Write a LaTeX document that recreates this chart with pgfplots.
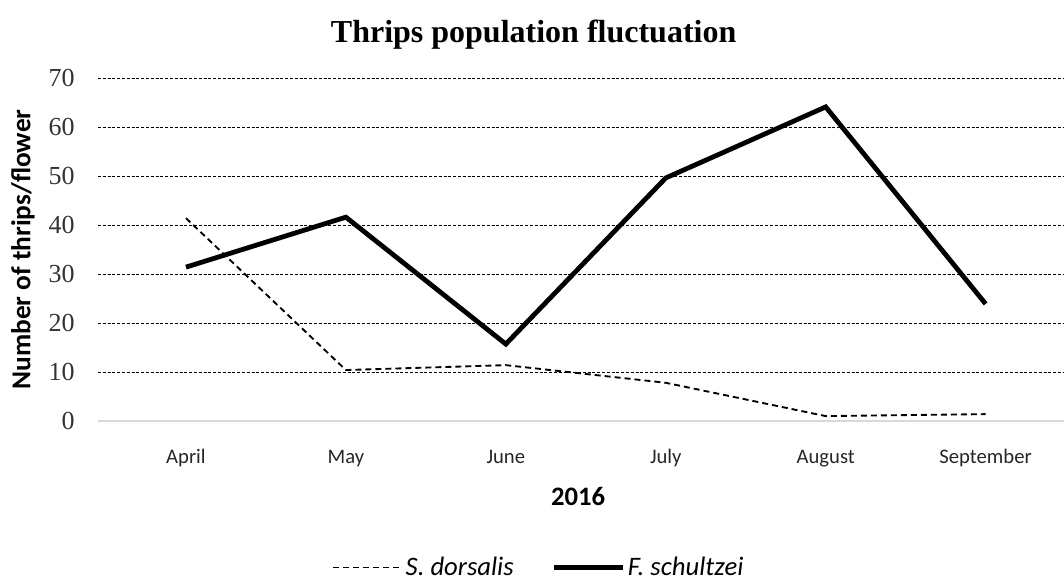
\documentclass[border=0pt]{standalone}
\usepackage{pgfplots}
\pgfplotsset{compat=1.18}
\usepackage{fontspec}
\setmainfont{Carlito}
\newfontfamily\titlefont{Liberation Serif}
\newfontfamily\tickfont{Liberation Serif}

\begin{document}
\begin{tikzpicture}[x=1pt,y=1pt]
	\useasboundingbox (-73.5pt,-121.5pt) rectangle ++(798pt,437.25pt);
	\begin{axis}[
			at={(0pt,0pt)},
			anchor=south west,
			scale only axis,
			width=724.5pt,
			height=257.25pt,
			xmin=-0.55, xmax=5.49,
			ymin=0, ymax=70,
			ytick distance=10,
			xtick={0,1,2,3,4,5},
			xticklabels={April,May,June,July,August,September},
			xticklabel style={font=\fontsize{15.5}{15.5}\selectfont, anchor=base, yshift=-31.5pt, text=black!85},
			yticklabel style={font=\tickfont\fontsize{19.5}{19.5}\selectfont, xshift=-14pt, text=black!80},
			/pgf/number format/assume math mode=true,
			axis x line*=bottom,
			axis y line*=left,
			x axis line style={draw=black!15, line width=1.2pt, -},
			y axis line style={draw=none},
			tick style={draw=none},
			ymajorgrids,
			major grid style={black, dash pattern=on 2.2pt off 1.4pt, line width=0.6pt},
			title={\titlefont\bfseries\fontsize{24}{24}\selectfont Thrips population fluctuation},
			title style={at={(0.451,1)}, yshift=12pt},
			xlabel={\bfseries\fontsize{20}{20}\selectfont 2016},
			xlabel style={at={(0.497,0)}, yshift=-46pt},
			ylabel={\bfseries\fontsize{20.5}{20.5}\selectfont Number of thrips/flower},
			ylabel style={at={(0,0.5)}, anchor=south, yshift=44pt},
			legend columns=2,
			legend style={
					draw=none,
					at={(0.4565,-0.427)},
					anchor=center,
					font=\itshape\fontsize{20}{20}\selectfont,
					/tikz/every even column/.append style={column sep=26pt},
				},
			legend image code/.code={
					\draw[#1] (0pt,0pt) -- (52pt,0pt);
				},
			clip=false,
		]
		\addplot[
			black,
			line width=1.4pt,
			dash pattern=on 4.5pt off 3pt,
		] coordinates {
    (0, 41.4)
    (1, 10.4)
    (2, 11.4)
    (3, 7.8)
    (4, 1.0)
    (5, 1.4)
		};

		\addplot[
			black,
			line width=3.6pt,
		] coordinates {
    (0, 31.4)
    (1, 41.6)
    (2, 15.7)
    (3, 49.6)
    (4, 64.1)
    (5, 23.9)
		};

		\legend{S. dorsalis, F. schultzei}
	\end{axis}
\end{tikzpicture}
\end{document}
